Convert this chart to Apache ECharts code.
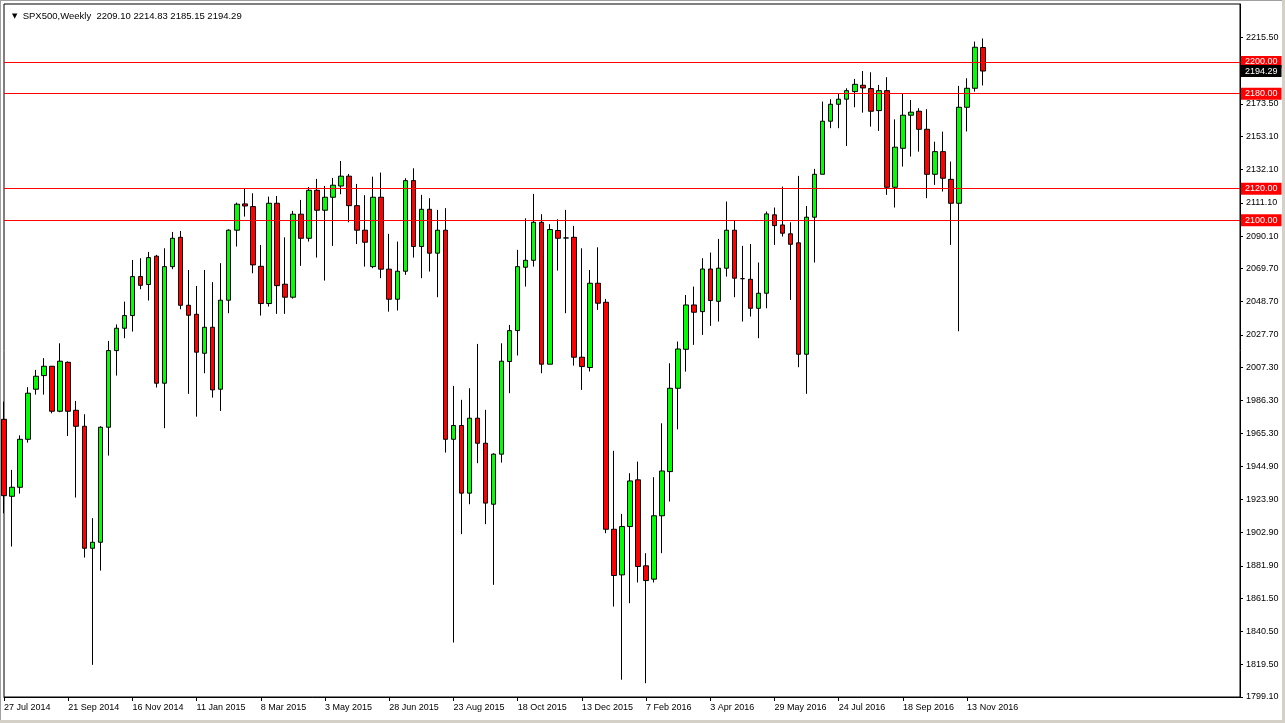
<!DOCTYPE html>
<html><head><meta charset="utf-8">
<script src="https://cdn.jsdelivr.net/npm/echarts@6/dist/echarts.min.js"></script>
<style>html,body{margin:0;padding:0;background:#fff;overflow:hidden}#c{width:1285px;height:723px}</style>
</head><body><div id="c"></div>
<script>
// Weekly SPX500 OHLC (first bar = week of 27 Jul 2014)
const opens = [1974.4,1925.8,1931.5,1961.8,1993.4,2002.0,2007.9,1979.5,2010.4,1980.1,
1970.0,1893.0,1896.8,1969.4,2017.8,2031.9,2039.9,2064.5,2059.5,2077.4,
1997.2,2070.8,2089.3,2046.4,2040.7,2016.1,2032.5,1993.4,2049.6,2093.8,
2110.4,2108.7,2071.0,2047.5,2110.8,2059.7,2051.5,2103.9,2088.7,2119.0,
2106.4,2114.6,2121.7,2127.9,2109.3,2093.8,2070.8,2114.6,2069.2,2050.2,
2067.9,2125.1,2083.5,2107.0,2079.3,2093.8,1961.8,1970.5,1927.8,1975.1,
1959.3,1920.8,1952.4,2010.9,2030.4,2070.4,2074.8,2098.8,2009.2,2093.6,
2088.9,2089.3,2013.6,2007.1,2060.3,2048.3,1905.0,1876.2,1906.7,1936.2,
1881.9,1873.5,1913.5,1941.4,1994.0,2018.6,2046.6,2042.4,2069.3,2048.9,
2069.8,2093.8,2063.2,2062.8,2044.5,2054.0,2103.5,2097.1,2091.5,2085.8,
2015.5,2102.0,2129.1,2162.6,2173.3,2176.5,2181.3,2185.3,2183.2,2169.3,
2181.9,2120.9,2145.5,2166.4,2168.9,2157.5,2129.1,2143.4,2125.9,2110.8,
2171.4,2183.4,2209.10];
const closes = [1926.2,1931.5,1961.8,1990.9,2001.6,2007.9,1979.5,2011.1,1979.5,1970.0,
1893.0,1896.8,1969.4,2017.8,2031.9,2039.9,2064.5,2059.0,2076.5,1997.2,
2070.8,2088.7,2046.4,2040.1,2016.8,2032.5,1993.0,2049.6,2093.8,2110.2,
2109.1,2071.9,2047.5,2110.8,2058.8,2051.5,2103.9,2088.7,2119.0,2106.4,
2114.6,2122.2,2127.9,2109.3,2093.8,2086.2,2114.6,2069.2,2050.2,2067.9,
2125.1,2083.5,2107.0,2079.3,2093.8,1961.8,1970.5,1927.8,1975.1,1959.3,
1921.5,1952.4,2011.1,2030.4,2070.8,2074.8,2098.8,2009.2,2094.2,2088.7,
2088.9,2013.6,2007.7,2060.3,2047.7,1905.0,1875.8,1906.7,1935.5,1881.5,
1872.6,1913.5,1941.8,1994.0,2018.8,2046.6,2042.0,2069.3,2049.4,2069.8,
2093.8,2063.5,2063.2,2044.5,2054.0,2104.1,2096.7,2091.9,2084.9,2015.5,
2102.0,2129.1,2162.6,2173.3,2176.5,2181.9,2185.9,2183.6,2168.9,2181.9,
2120.9,2146.2,2166.4,2168.3,2157.5,2129.1,2143.4,2126.6,2110.8,2171.4,
2183.4,2209.3,2194.29];
const lows = [1915.1,1894.1,1927.5,1959.7,1990.0,1990.0,1978.2,1978.9,1963.9,1925.0,
1887.1,1819.4,1878.9,1951.5,2002.0,2025.6,2029.8,2056.5,2049.4,1994.5,
1968.8,2069.2,2043.9,1990.5,1976.1,2003.5,1988.1,1979.7,2041.4,2083.5,
2102.4,2066.6,2039.9,2045.6,2041.0,2041.0,2050.6,2071.3,2086.6,2076.5,
2062.0,2083.9,2116.5,2098.8,2085.1,2070.8,2069.8,2063.5,2042.4,2043.1,
2065.6,2076.5,2063.5,2067.7,2051.5,1953.4,1833.5,1901.9,1920.8,1946.7,
1908.2,1869.9,1947.1,1990.9,2014.7,2058.2,2070.8,2003.5,2009.2,2068.3,
2041.4,2008.3,1993.0,2004.6,2043.5,1902.5,1856.2,1810.0,1858.3,1871.4,
1807.8,1871.4,1889.9,1922.5,1968.1,2004.5,2021.4,2027.7,2033.4,2036.1,
2064.5,2051.5,2036.1,2039.3,2025.6,2044.5,2084.5,2089.8,2049.8,2007.3,
1990.5,2073.4,2129.1,2158.2,2158.2,2147.0,2171.4,2168.0,2159.2,2156.5,
2116.1,2108.1,2134.0,2140.3,2143.4,2114.0,2122.4,2118.2,2084.5,2030.0,
2156.1,2181.3,2185.15];
const highs = [1985.6,1942.5,1964.3,1994.7,2005.6,2013.0,2008.1,2022.4,2010.9,1986.0,
1977.6,1912.0,1970.0,2023.9,2034.3,2048.7,2075.0,2076.1,2080.1,2078.2,
2082.4,2092.7,2093.3,2068.7,2058.6,2068.7,2061.0,2073.0,2094.4,2111.2,
2119.9,2117.1,2084.5,2115.0,2115.4,2089.3,2106.0,2112.9,2121.1,2126.2,
2121.7,2126.8,2137.5,2129.3,2123.0,2115.9,2127.6,2130.2,2091.5,2086.6,
2126.6,2132.9,2116.1,2114.0,2106.6,2107.7,1995.5,1986.7,1994.0,2022.0,
1980.4,1953.0,2022.4,2034.0,2081.4,2101.3,2116.7,2103.9,2097.6,2100.7,
2106.6,2096.5,2082.4,2068.7,2083.0,2050.4,1954.5,1914.7,1940.4,1947.7,
1889.9,1937.9,1971.9,2009.8,2023.5,2052.9,2058.2,2076.1,2079.7,2088.3,
2111.9,2099.9,2083.9,2085.1,2073.4,2105.6,2108.1,2121.3,2098.8,2128.1,
2109.1,2132.5,2175.0,2176.5,2179.8,2183.4,2189.3,2194.3,2193.5,2185.5,
2190.4,2163.8,2180.2,2176.0,2170.8,2170.2,2149.7,2156.0,2137.1,2184.9,
2189.7,2212.9,2214.83];

const priceTicks = [2215.50,2173.50,2153.10,2132.10,2111.10,2090.10,2069.70,2048.70,2027.70,2007.30,
1986.30,1965.30,1944.90,1923.90,1902.90,1881.90,1861.50,1840.50,1819.50,1799.10];
const levels = [2200, 2180, 2120, 2100];
const lastPrice = 2194.29;
const headerParts = ['SPX500,Weekly', '2209.10', '2214.83', '2185.15', '2194.29'];
const monthNames = ['Jan','Feb','Mar','Apr','May','Jun','Jul','Aug','Sep','Oct','Nov','Dec'];
const totalSlots = 155;
const firstWeekUTC = Date.UTC(2014, 6, 27);

const categories = [];
for (let i = 0; i < totalSlots; i++) {
  const d = new Date(firstWeekUTC + i * 7 * 86400000);
  categories.push(d.getUTCDate() + ' ' + monthNames[d.getUTCMonth()] + ' ' + d.getUTCFullYear());
}
const ohlc = opens.map((o, i) => [o, closes[i], lows[i], highs[i]]);
const showIdx = i => i % 8 === 0 && i < ohlc.length;

const FONT = 'Liberation Sans';
const RED = '#ff0000';
const boxLabel = (txt, bg) => ({show: true, position: 'end', distance: 1, formatter: () => txt, color: '#fff',
  backgroundColor: bg, padding: [2, 4, 1, 4], fontFamily: FONT, fontSize: 9, opacity: 1});

const chart = echarts.init(document.getElementById('c'), null, {renderer: 'canvas'});
chart.setOption({
  animation: false,
  backgroundColor: '#fff',
  title: {
    text: '{t|▼}  ' + headerParts[0] + '  ' + headerParts.slice(1).join(' '),
    left: 7, top: 6,
    textStyle: {fontFamily: FONT, fontSize: 9.5, fontWeight: 'normal', color: '#000',
      rich: {t: {fontSize: 7, color: '#000', fontFamily: 'DejaVu Sans'}}}
  },
  grid: {left: 4, top: 4, right: 45, bottom: 26, show: true, borderColor: '#000', borderWidth: 1, backgroundColor: '#fff'},
  xAxis: {
    type: 'category', data: categories, boundaryGap: false,
    axisLine: {show: true, lineStyle: {color: '#000', width: 1}},
    axisTick: {show: true, interval: (i) => showIdx(i), length: 4, lineStyle: {color: '#000'}},
    axisLabel: {interval: (i) => showIdx(i), align: 'left', margin: 6, fontFamily: FONT, fontSize: 9, color: '#000'},
    splitLine: {show: false}
  },
  yAxis: {
    type: 'value', position: 'right', min: 1799.1, max: 2236.6,
    axisLine: {show: true, lineStyle: {color: '#000', width: 1}},
    axisTick: {show: true, customValues: priceTicks, length: 3, lineStyle: {color: '#000'}},
    axisLabel: {customValues: priceTicks, margin: 6, fontFamily: FONT, fontSize: 9, color: '#000',
      formatter: v => v.toFixed(2)},
    splitLine: {show: false}
  },
  series: [{
    type: 'candlestick',
    data: ohlc,
    barWidth: 5,
    clip: true,
    itemStyle: {color: '#00ff00', color0: RED, borderColor: '#000', borderColor0: '#000', borderColorDoji: '#000', borderWidth: 1}
  }, {
    type: 'line', data: [], silent: true, color: RED,
    markLine: {
      silent: true, symbol: ['none', 'none'], animation: false,
      lineStyle: {color: RED, width: 1, type: 'solid'},
      data: levels.map(v => ({yAxis: v, label: boxLabel(v.toFixed(2), RED)}))
    }
  }, {
    type: 'line', data: [], silent: true, color: '#000',
    markLine: {
      silent: true, symbol: ['none', 'none'], animation: false,
      lineStyle: {color: 'rgba(0,0,0,0)', width: 1, opacity: 1},
      data: [{yAxis: lastPrice, label: boxLabel(lastPrice.toFixed(2), '#000')}]
    }
  }],
  graphic: [
    {type: 'rect', shape: {x: 1282, y: 0, width: 3, height: 723}, style: {fill: '#d4d0c8'}, silent: true},
    {type: 'rect', shape: {x: 0, y: 720, width: 1285, height: 3}, style: {fill: '#d4d0c8'}, silent: true},
    {type: 'rect', shape: {x: 0, y: 0, width: 1, height: 720}, style: {fill: '#a0a0a0'}, silent: true},
    {type: 'rect', shape: {x: 0, y: 0, width: 1282, height: 1}, style: {fill: '#a0a0a0'}, silent: true}
  ]
});
</script></body></html>
